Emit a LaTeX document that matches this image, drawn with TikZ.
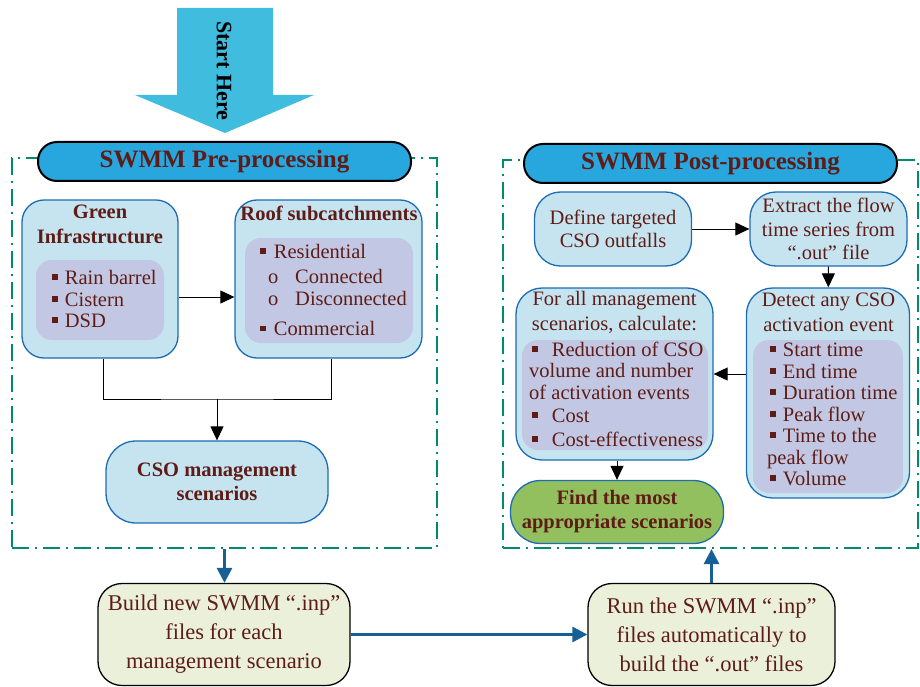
\documentclass[tikz,border=0pt]{standalone}
\usepackage{fontspec}
\setmainfont{Liberation Serif}
\usepackage{tikz}
\usetikzlibrary{arrows.meta, positioning}
\usepackage{xcolor}
\definecolor{txtbrown}{RGB}{94,28,22}
\definecolor{skyfill}{RGB}{198,228,240}
\definecolor{boxblue}{RGB}{28,108,178}
\definecolor{lavender}{RGB}{194,200,228}
\definecolor{bannerblue}{RGB}{40,166,222}
\definecolor{startblue}{RGB}{64,188,223}
\definecolor{leafgreen}{RGB}{146,192,94}
\definecolor{paleolive}{RGB}{235,240,218}
\definecolor{framegreen}{RGB}{0,140,108}
\definecolor{flowblue}{RGB}{22,96,150}
\newcommand{\sqb}{\rule[0.22em]{0.28em}{0.28em}}

\begin{document}
\begin{tikzpicture}[x=1pt, y=-1pt, ->, >={Triangle[length=14pt, width=13pt]},
    every node/.style={text=txtbrown}]
    \tikzstyle{frame} = [draw=framegreen, line width=2.2pt, dash pattern=on 17pt off 6pt on 2pt off 6pt, inner sep=0pt]
    \tikzstyle{banner} = [draw=black, line width=2pt, fill=bannerblue, rounded corners=19pt, minimum width=373pt, minimum height=39pt, inner sep=0pt, font=\bfseries\fontsize{25}{27}\selectfont]
    \tikzstyle{box} = [draw=boxblue, line width=1.3pt, fill=skyfill, rounded corners=22pt, inner sep=0pt, align=center, font=\fontsize{20.5}{23.5}\selectfont]
    \tikzstyle{inner} = [fill=lavender, rounded corners=16pt, inner sep=0pt]
    \tikzstyle{title} = [inner sep=0pt, align=center, font=\fontsize{20.5}{25}\selectfont]
    \tikzstyle{items} = [inner sep=0pt, align=left, anchor=west, font=\fontsize{20.5}{21.5}\selectfont]
    \tikzstyle{final} = [draw=black, line width=1.3pt, fill=paleolive, rounded corners=24pt, inner sep=0pt, align=center, minimum width=252pt, minimum height=102pt, font=\fontsize{22.5}{29}\selectfont]
    \tikzstyle{flow} = [draw=flowblue, line width=3pt, -{Triangle[length=15pt, width=15pt]}]
    \useasboundingbox (0,0) rectangle (920,687);

    % start arrow
    \fill [startblue] (177,8) -- (273,8) -- (273,95) -- (314,95) -- (225,133) -- (135,95) -- (177,95) -- cycle;
    \node [rotate=-90, text=black, font=\bfseries\fontsize{22}{24}\selectfont] (0) at (224,71) {Start Here};

    % pre-processing
    \node [frame, minimum width=425pt, minimum height=390pt] (1) at (224.5,353) {};
    \node [banner] (3) at (224.5,161.5) {SWMM Pre-processing};
    \node [box, minimum width=156pt, minimum height=158pt] (5) at (100,279) {};
    \node [inner, minimum width=128pt, minimum height=80pt] (6) at (100,300) {};
    \node [title, font=\bfseries\fontsize{20.5}{25}\selectfont, below=5pt of 5.north] (7) {Green\\Infrastructure};
    \node [items] (8) at (52,299) {\sqb\hspace{7pt}Rain barrel\\\sqb\hspace{7pt}Cistern\\\sqb\hspace{7pt}DSD};
    \node [box, minimum width=187pt, minimum height=158pt] (9) at (328.5,279) {};
    \node [inner, minimum width=168pt, minimum height=105pt] (10) at (329,290.5) {};
    \node [title, font=\bfseries\fontsize{20.5}{25}\selectfont] (11) at (329,213) {Roof subcatchments};
    \node [items] (12) at (260,290) {\sqb\hspace{8pt}Residential\\[4pt]
        \hspace*{8pt}\makebox[27pt][l]{o}Connected\\
        \hspace*{8pt}\makebox[27pt][l]{o}Disconnected\\[9pt]
        \sqb\hspace{8pt}Commercial};
    \node [box, rounded corners=30pt, minimum width=222pt, minimum height=82pt, font=\bfseries\fontsize{20.5}{24}\selectfont] (13) at (217,482) {CSO management\\scenarios};
    \coordinate (14) at (217,399);
    \draw [->, -, line width=1pt] ([xshift=3pt]5.south) |- (14) -| ([xshift=2.5pt]9.south);
    \draw [line width=1pt] (14) -- (13);
    \draw [line width=1pt] ([yshift=-18pt]5.east) -- ([yshift=-18pt]9.west);

    % post-processing
    \node [frame, minimum width=415pt, minimum height=388pt] (2) at (710.5,354) {};
    \node [banner] (4) at (710.5,163.5) {SWMM Post-processing};
    \node [box, rounded corners=26pt, minimum width=157pt, minimum height=74pt] (15) at (613,229) {Define targeted\\CSO outfalls};
    \node [box, rounded corners=26pt, minimum width=157pt, minimum height=74pt] (16) at (828.5,229) {Extract the flow\\time series from\\“.out” file};
    \node [box, rounded corners=26pt, minimum width=197pt, minimum height=172pt] (17) at (614.5,374) {};
    \node [inner, minimum width=186pt, minimum height=110pt] (18) at (615,395) {};
    \node [title] (19) at (614.5,312.5) {For all management\\scenarios, calculate:};
    \node [items] (20) at (529,394) {\hspace*{3pt}\sqb\hspace{14pt}Reduction of CSO\\volume and number\\of activation events\\[2pt]
        \hspace*{3pt}\sqb\hspace{14pt}Cost\\[2pt]
        \hspace*{3pt}\sqb\hspace{14pt}Cost-effectiveness};
    \node [box, rounded corners=26pt, minimum width=163pt, minimum height=210pt] (21) at (828,393) {};
    \node [inner, minimum width=150pt, minimum height=153pt] (22) at (828,416.5) {};
    \node [title] (23) at (828.5,312.5) {Detect any CSO\\activation event};
    \node [items] (24) at (767,414.5) {\hspace*{3pt}\sqb\hspace{7pt}Start time\\
        \hspace*{3pt}\sqb\hspace{7pt}End time\\
        \hspace*{3pt}\sqb\hspace{7pt}Duration time\\
        \hspace*{3pt}\sqb\hspace{7pt}Peak flow\\
        \hspace*{3pt}\sqb\hspace{7pt}Time to the\\peak flow\\
        \hspace*{3pt}\sqb\hspace{7pt}Volume};
    \node [box, fill=leafgreen, rounded corners=30pt, minimum width=213pt, minimum height=63pt, font=\bfseries\fontsize{20.5}{24}\selectfont] (25) at (617,512) {Find the most\\appropriate scenarios};
    \draw [line width=1pt] (15) -- (16);
    \draw [line width=1pt] (16) -- (21);
    \draw [line width=1pt] (17.east -| 21.west) -- (17.east);
    \draw [line width=1pt] (17.south -| 25) -- (25);

    % SWMM runs
    \node [final] (26) at (224,634.5) {Build new SWMM “.inp”\\files for each\\management scenario};
    \node [final, minimum width=247pt] (27) at (711.5,634.5) {Run the SWMM “.inp”\\files automatically to\\build the “.out” files};
    \draw [flow] (1.south) -- (1.south |- 26.north);
    \draw [flow] (26) -- (27);
    \draw [flow] (27.north) -- (27.north |- 2.south);
\end{tikzpicture}
\end{document}
